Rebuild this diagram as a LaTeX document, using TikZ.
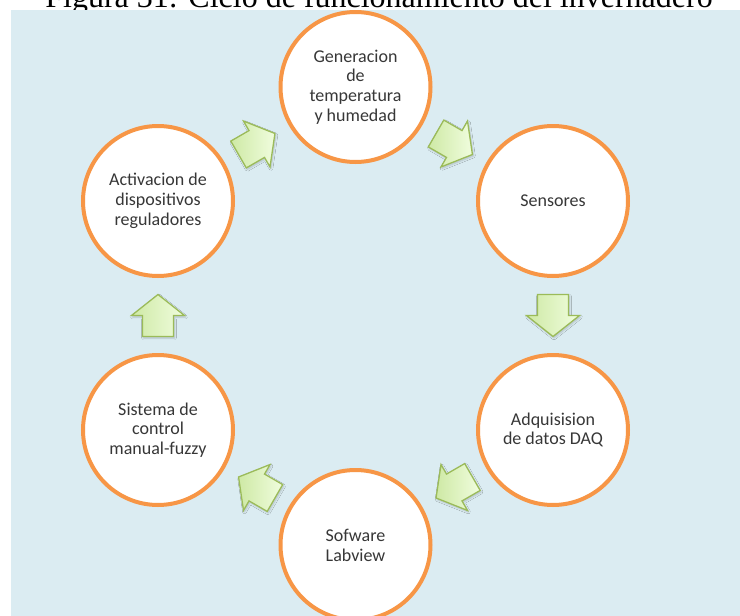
\documentclass[tikz,border=0pt]{standalone}
\usepackage{fontspec}
\setmainfont{Liberation Serif}
\newfontfamily\circlefont{Carlito}
\usetikzlibrary{calc,shadows.blur}

\definecolor{panelblue}{RGB}{219,236,242}
\definecolor{ringorange}{RGB}{247,150,70}
\definecolor{arrowedge}{RGB}{155,187,89}
\definecolor{arrowdark}{RGB}{206,233,165}
\definecolor{arrowlight}{RGB}{240,253,222}
\definecolor{labelgray}{RGB}{55,55,55}

\tikzset{
  stage/.style={circle, draw=ringorange, line width=4pt, fill=white,
    minimum size=150pt, inner sep=0pt, align=center, text=labelgray,
    font=\circlefont\fontsize{18}{19.8}\selectfont},
  flowarrow/.pic={
    \path[draw=arrowedge, line width=1.3pt, line join=miter,
      left color=arrowdark, right color=arrowlight,
      blur shadow={shadow xshift=1pt, shadow yshift=-1.5pt,
        shadow opacity=20, shadow blur steps=6}]
      (-21,-15.5) -- (0,-15.5) -- (0,-26.5) -- (21,0) -- (0,26.5)
      -- (0,15.5) -- (-21,15.5) -- cycle;
  }
}

\begin{document}
\begin{tikzpicture}[x=1pt,y=-1pt]
  \useasboundingbox (0,0) rectangle (740,616);
  \clip (0,0) rectangle (740,616);

  % caption line above the figure panel
  \node[anchor=base, inner sep=0pt, font=\fontsize{32}{38}\selectfont]
    (caption) at (379,7) {Figura 31: Ciclo de funcionamiento del invernadero};

  % light blue panel
  \fill[panelblue] (11,10) rectangle (740,616);

  % the six stages of the cycle
  \node[stage] (gen) at (355.5,87)  {Generacion\\de\\temperatura\\y humedad};
  \node[stage] (sen) at (553,201)   {Sensores};
  \node[stage] (adq) at (553,430)   {Adquisision\\de datos DAQ};
  \node[stage] (lab) at (355.5,545) {Sofware\\Labview};
  \node[stage] (sis) at (158,430)   {Sistema de\\control\\manual-fuzzy};
  \node[stage] (act) at (158,201)   {Activacion de\\dispositivos\\reguladores};

  % block arrows between consecutive stages
  \pic[rotate=-30]  at ($(gen)!0.5!(sen)$) {flowarrow};
  \pic[rotate=-90]  at ($(sen)!0.5!(adq)$) {flowarrow};
  \pic[rotate=-150] at ($(adq)!0.5!(lab)$) {flowarrow};
  \pic[rotate=150]  at ($(lab)!0.5!(sis)$) {flowarrow};
  \pic[rotate=90]   at ($(sis)!0.5!(act)$) {flowarrow};
  \pic[rotate=30]   at ($(act)!0.5!(gen)$) {flowarrow};
\end{tikzpicture}
\end{document}
